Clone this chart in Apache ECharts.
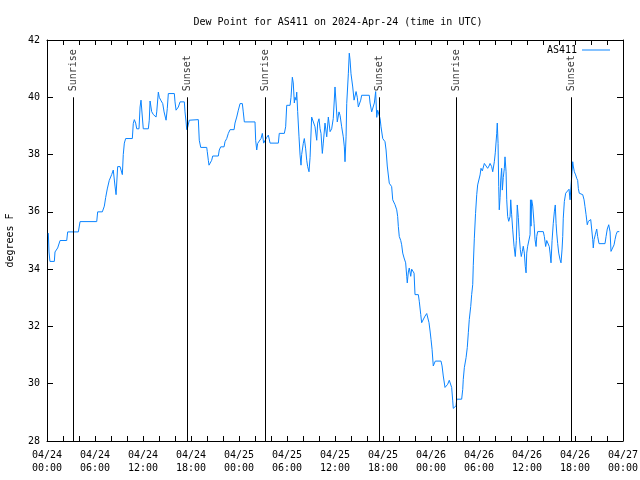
<!DOCTYPE html>
<html>
<head>
<meta charset="utf-8">
<script src="https://cdn.jsdelivr.net/npm/echarts@6/dist/echarts.min.js"></script>
<style>html,body{margin:0;padding:0;background:#fff}#c{width:640px;height:480px}</style>
</head>
<body>
<div id="c"></div>
<script>
// time in minutes since 2024-04-24 00:00 UTC, dew point in degrees F
var day1 = [[10,35.26],[15,34.6],[22,34.27],[55,34.27],[60,34.6],[80,34.74],[98,35.0],[148,35.0],[155,35.3],[235,35.3],[248,35.66],[373,35.66],[380,36.0],[415,36.0],[430,36.2],[440,36.5],[452,36.8],[467,37.1],[485,37.3],[497,37.46],[510,36.9],[518,36.6],[530,37.58],[548,37.58],[565,37.3],[572,38.0],[580,38.4],[590,38.56],[640,38.56],[647,39.08],[655,39.22],[665,39.1],[673,38.9],[690,38.9],[698,39.66],[705,39.9],[718,39.9],[722,38.9],[760,38.9],[767,39.2],[773,39.87],[785,39.5],[797,39.4],[810,39.43],[818,39.31],[823,39.49],[835,40.18],[842,40.0],[853,39.9],[868,39.78],[878,39.49],[893,39.2],[902,39.6],[910,40.13],[955,40.13],[960,39.84],[968,39.55],[977,39.5],[985,39.66],[998,39.84],[1030,39.84],[1035,39.49],[1043,39.14],[1048,38.87],[1055,38.95],[1067,39.2],[1073,39.22],[1135,39.22],[1142,38.5],[1153,38.25],[1198,38.25],[1202,38.1],[1210,37.8],[1215,37.63],[1228,37.63],[1235,37.8],[1243,37.95],[1285,37.95],[1292,38.16],[1303,38.27],[1328,38.27],[1335,38.45],[1348,38.56],[1360,38.74],[1373,38.87],[1403,38.87],[1410,39.1],[1423,39.31],[1435,39.55]];
var day2 = [[1448,39.78],[1465,39.78],[1472,39.49],[1480,39.14],[1560,39.14],[1565,38.5],[1573,38.16],[1580,38.39],[1590,38.4],[1605,38.56],[1615,38.74],[1625,38.4],[1635,38.4],[1648,38.6],[1660,38.68],[1673,38.4],[1735,38.4],[1742,38.74],[1780,38.74],[1790,38.97],[1798,39.72],[1823,39.72],[1830,40.0],[1840,40.7],[1847,40.5],[1855,39.8],[1860,40.0],[1868,39.9],[1873,40.18],[1880,39.5],[1890,38.62],[1898,37.98],[1905,37.63],[1910,38.0],[1922,38.39],[1930,38.56],[1940,38.2],[1948,37.8],[1955,37.58],[1965,37.4],[1973,37.9],[1985,39.31],[1997,39.37],[2010,38.97],[2023,38.5],[2030,39.1],[2040,39.25],[2048,38.9],[2055,38.74],[2065,38.04],[2072,38.4],[2085,39.1],[2098,38.62],[2110,39.31],[2123,38.8],[2135,38.9],[2147,39.26],[2160,40.36],[2168,39.8],[2177,39.14],[2190,39.49],[2198,39.37],[2210,38.97],[2222,38.62],[2230,38.27],[2235,37.75],[2243,38.62],[2248,39.78],[2260,40.82],[2267,41.54],[2273,41.3],[2280,40.82],[2293,40.36],[2303,39.9],[2310,39.9],[2318,40.2],[2327,40.0],[2335,39.66],[2342,39.6],[2353,39.9],[2360,40.07],[2417,40.07],[2423,39.8],[2435,39.49],[2447,39.49],[2455,39.8],[2465,40.2],[2473,39.3],[2480,39.55],[2490,39.5],[2498,39.26],[2505,38.97],[2518,38.56],[2535,38.45],[2543,38.16],[2552,37.6],[2567,37.0],[2585,36.88],[2593,36.42],[2610,36.25],[2623,36.07],[2630,35.84],[2635,35.49],[2642,35.14],[2653,35.0],[2660,34.85],[2668,34.56],[2678,34.39],[2690,34.22],[2698,33.75],[2702,33.52],[2710,33.9],[2717,34.04],[2728,33.75],[2735,34.0],[2747,34.04],[2753,33.86],[2760,33.11],[2785,33.11],[2792,32.88],[2803,32.42],[2810,32.13],[2822,32.13],[2835,32.36],[2848,32.45],[2858,32.45],[2865,32.13],[2873,31.84]];
var day3 = [[2880,31.55],[2888,31.2],[2897,30.62],[2905,30.62],[2912,30.79],[2955,30.79],[2963,30.62],[2972,30.27],[2985,29.87],[2998,29.87],[3005,29.98],[3017,30.12],[3030,30.12],[3035,29.87],[3043,29.4],[3047,29.14],[3062,29.14],[3068,29.23],[3073,29.46],[3110,29.46],[3118,29.8],[3122,30.15],[3130,30.56],[3143,30.91],[3152,31.26],[3160,31.78],[3167,32.24],[3178,32.7],[3185,33.11],[3193,33.46],[3197,34.12],[3205,35.08],[3214,35.94],[3223,36.6],[3230,36.94],[3242,36.94],[3248,37.29],[3255,37.52],[3265,37.43],[3280,37.69],[3290,37.75],[3305,37.52],[3315,37.6],[3323,37.69],[3335,37.58],[3343,37.4],[3355,37.75],[3362,38.06],[3373,38.74],[3377,39.1],[3383,38.39],[3388,36.88],[3392,36.07],[3398,36.5],[3403,37.11],[3410,37.52],[3415,36.76],[3422,37.2],[3430,37.52],[3435,37.92],[3443,37.4],[3448,36.42],[3455,35.84],[3463,35.67],[3473,35.84],[3478,36.42],[3485,35.9],[3493,35.37],[3503,34.79],[3512,34.44],[3520,35.0],[3527,36.24],[3535,35.8],[3542,35.14],[3550,34.68],[3557,34.44],[3565,34.62],[3572,34.8],[3580,34.56],[3587,34.1],[3593,33.87],[3598,34.56],[3605,34.8],[3617,34.8],[3623,35.2],[3626,36.42],[3630,35.5],[3635,36.42],[3643,36.2],[3653,35.6],[3660,35.03],[3668,34.79],[3673,35.14],[3680,35.31],[3722,35.31],[3730,35.14],[3740,34.79],[3748,35.0],[3760,35.0],[3767,34.79],[3773,34.56],[3780,34.22],[3788,35.0],[3797,35.6],[3805,36.0],[3812,36.24],[3818,35.6],[3823,35.26],[3830,34.9],[3838,34.56],[3848,34.33],[3855,34.22],[3863,34.7],[3868,35.14],[3872,35.78],[3880,36.36],[3890,36.65],[3902,36.7],[3915,36.79],[3923,36.42],[3930,36.9],[3938,37.4],[3943,37.75],[3947,37.6],[3955,37.4],[3965,37.29],[3973,37.17],[3980,37.1],[3985,36.82],[3992,36.65],[4018,36.6],[4028,36.42],[4035,36.18],[4043,35.9],[4052,35.55],[4060,35.67],[4078,35.73],[4088,35.73],[4093,35.03],[4097,34.74],[4103,35.03],[4112,35.2],[4123,35.4],[4130,35.14],[4140,34.89],[4185,34.89],[4193,35.14],[4202,35.4],[4213,35.55],[4217,35.61],[4223,35.3],[4230,34.62],[4243,34.62],[4253,34.85],[4260,35.03],[4268,35.2],[4277,35.31],[4292,35.31]];

var sunTimes = [197, 1050, 1637, 2492, 3070, 3935];
var sunNames = ['Sunrise', 'Sunset', 'Sunrise', 'Sunset', 'Sunrise', 'Sunset'];
var xTickLabels = ['04/24\n00:00','04/24\n06:00','04/24\n12:00','04/24\n18:00','04/25\n00:00','04/25\n06:00','04/25\n12:00','04/25\n18:00','04/26\n00:00','04/26\n06:00','04/26\n12:00','04/26\n18:00','04/27\n00:00'];
var yTicks = [28, 30, 32, 34, 36, 38, 40, 42];

var FONT = 'DejaVu Sans Mono';
var series = day1.concat(day2, day3).map(function (p) { return [p[0] / 60, p[1]]; });
var sunLineData = sunTimes.map(function (t) {
  return [{ coord: [t / 60, 28] }, { coord: [t / 60, 40] }];
});
var sunLabelData = sunTimes.map(function (t, i) { return { value: [t / 60, 40], name: sunNames[i] }; });

var axisCommon = {
  type: 'value', min: 0, max: 72, interval: 6,
  axisLine: { show: true, onZero: false, lineStyle: { color: '#000', width: 1 } },
  axisTick: { show: true, inside: true, length: 5, lineStyle: { color: '#000' } },
  minorTick: { show: true, splitNumber: 3, length: 5, lineStyle: { color: '#000' } },
  splitLine: { show: false }
};
var yCommon = {
  type: 'value', min: 28, max: 42, interval: 2,
  axisLine: { show: true, onZero: false, lineStyle: { color: '#000', width: 1 } },
  axisTick: { show: true, inside: true, length: 6, lineStyle: { color: '#000' } },
  splitLine: { show: false }
};

var chart = echarts.init(document.getElementById('c'), null, { renderer: 'canvas' });
chart.setOption({
  animation: false,
  backgroundColor: '#fff',
  textStyle: { fontFamily: FONT },
  title: {
    text: 'Dew Point for AS411 on 2024-Apr-24 (time in UTC)',
    left: 333, top: 12, textAlign: 'center',
    textStyle: { fontFamily: FONT, fontSize: 10, fontWeight: 'normal', color: '#000' }
  },
  legend: {
    data: [{ name: 'AS411', icon: 'rect' }], right: 25, top: 40, align: 'right',
    itemWidth: 28, itemHeight: 1, itemGap: 5,
    textStyle: { fontFamily: FONT, fontSize: 10, color: '#000' }
  },
  grid: { left: 47, top: 40, width: 576, height: 401, containLabel: false, outerBoundsMode: 'none' },
  xAxis: [
    Object.assign({}, axisCommon, {
      position: 'bottom',
      axisLabel: {
        show: true, margin: 8, color: '#000', fontFamily: FONT, fontSize: 10, lineHeight: 13,
        formatter: function (v) { return xTickLabels[Math.round(v / 6)]; }
      }
    }),
    Object.assign({}, axisCommon, { position: 'top', axisLabel: { show: false } })
  ],
  yAxis: [
    Object.assign({}, yCommon, {
      position: 'left',
      name: 'degrees F', nameLocation: 'middle', nameGap: 32, nameRotate: 90,
      nameTextStyle: { fontFamily: FONT, fontSize: 10, color: '#000' },
      axisLabel: { show: true, margin: 7, color: '#000', fontFamily: FONT, fontSize: 10,
        formatter: function (v) { return yTicks.indexOf(v) >= 0 ? String(v) : ''; } }
    }),
    Object.assign({}, yCommon, { position: 'right', axisLabel: { show: false } })
  ],
  series: [
    {
      name: 'AS411', type: 'line', data: series, symbol: 'none', showSymbol: false,
      lineStyle: { color: '#0a84ff', width: 1 }, itemStyle: { color: '#0a84ff' },
      markLine: {
        silent: true, symbol: ['none', 'none'], animation: false,
        lineStyle: { color: '#000', width: 1, type: 'solid' },
        label: { show: false },
        data: sunLineData
      }
    },
    {
      name: 'sun', type: 'scatter', data: sunLabelData, symbolSize: 0, silent: true,
      label: {
        show: true, position: 'top', distance: 6, rotate: 90, align: 'left', verticalAlign: 'middle',
        formatter: function (p) { return p.name; },
        fontFamily: FONT, fontSize: 10, color: '#000'
      }
    }
  ]
});
</script>
</body>
</html>
